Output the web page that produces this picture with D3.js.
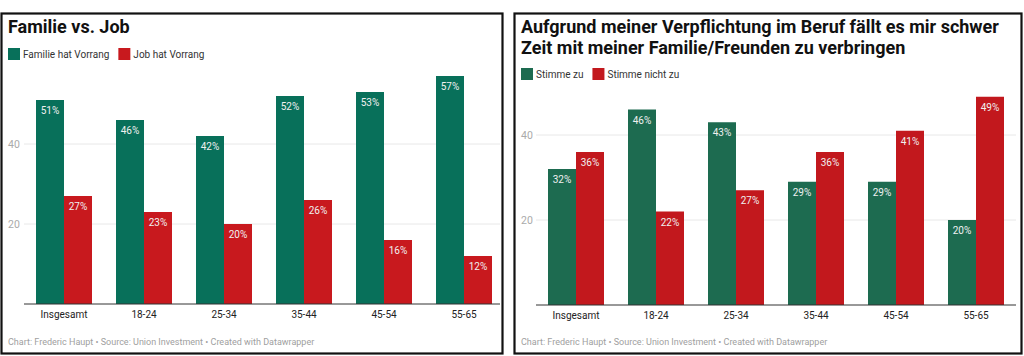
<!DOCTYPE html>
<html><head><meta charset="utf-8">
<script src="https://cdn.jsdelivr.net/npm/d3@7"></script>
<style>
html,body{margin:0;padding:0;background:#fff;}
svg{display:block;font-family:Roboto,"Noto Sans",sans-serif;}
</style></head>
<body><svg id="c" width="1024" height="356"></svg>
<script>
const categories = ["Insgesamt","18-24","25-34","35-44","45-54","55-65"];
const leftTitle = ["Familie vs. Job"];
const leftSeriesNames = ["Familie hat Vorrang","Job hat Vorrang"];
const leftFamilie = [51,46,42,52,53,57];
const leftJob = [27,23,20,26,16,12];
const rightTitle = ["Aufgrund meiner Verpflichtung im Beruf fällt es mir schwer","Zeit mit meiner Familie/Freunden zu verbringen"];
const rightSeriesNames = ["Stimme zu","Stimme nicht zu"];
const rightZu = [32,46,43,29,29,20];
const rightNicht = [36,22,27,36,41,49];
const yTicks = [20,40];
const footer = "Chart: Frederic Haupt • Source: Union Investment • Created with Datawrapper";

const svg = d3.select("#c");

function panel(cfg){
  const g = svg.append("g");
  g.append("rect").attr("x",cfg.bx).attr("y",cfg.by).attr("width",cfg.bw).attr("height",cfg.bh)
    .attr("fill","#fff").attr("stroke","#111").attr("stroke-width",2.2);
  cfg.title.forEach((t,i)=>{
    g.append("text").attr("x",cfg.tx).attr("y",cfg.ty+i*21).text(t)
      .attr("font-size",cfg.tsize).attr("font-weight",700).attr("fill","#111");
  });
  let lx = cfg.tx;
  cfg.names.forEach((n,i)=>{
    g.append("rect").attr("x",lx).attr("y",cfg.ly-6).attr("width",12).attr("height",12).attr("fill",cfg.colors[i]);
    const t = g.append("text").attr("x",lx+15).attr("y",cfg.ly+4).text(n)
      .attr("font-size",10).attr("fill","#333");
    lx += 15 + t.node().getComputedTextLength() + 9;
  });
  const x0 = d3.scaleBand().domain(categories).range([cfg.gx0, cfg.gx0+80*6]).paddingInner(0.3).paddingOuter(0.15);
  const x1 = d3.scaleBand().domain([0,1]).range([0,x0.bandwidth()]);
  const y = d3.scaleLinear().domain([0,cfg.ymax]).range([cfg.y0, cfg.y0-cfg.ppu*cfg.ymax]);
  yTicks.forEach(v=>{
    g.append("line").attr("x1",cfg.ax0).attr("x2",cfg.ax1).attr("y1",y(v)).attr("y2",y(v))
      .attr("stroke","#e8e8e8").attr("stroke-width",1);
    g.append("text").attr("x",cfg.tx).attr("y",y(v)+4).text(v).attr("font-size",10.5).attr("fill","#aaa");
  });
  const series = cfg.values;
  categories.forEach((c,ci)=>{
    series.forEach((arr,si)=>{
      const v = arr[ci];
      const bx = x0(c)+x1(si);
      g.append("rect").attr("x",bx).attr("y",y(v)).attr("width",x1.bandwidth()).attr("height",y(0)-y(v))
        .attr("fill",cfg.colors[si]);
      g.append("text").attr("x",bx+x1.bandwidth()/2).attr("y",y(v)+14).attr("text-anchor","middle")
        .text(v+"%").attr("font-size",10).attr("fill","#f0f0f0");
    });
  });
  g.append("line").attr("x1",cfg.ax0).attr("x2",cfg.ax1).attr("y1",y(0)).attr("y2",y(0))
    .attr("stroke","#333").attr("stroke-width",1);
  categories.forEach(c=>{
    g.append("text").attr("x",x0(c)+x0.bandwidth()/2).attr("y",y(0)+14).attr("text-anchor","middle")
      .text(c).attr("font-size",10).attr("fill","#222");
  });
  g.append("text").attr("x",cfg.tx).attr("y",345).text(footer).attr("font-size",9).attr("fill","#a0a0a0");
}

panel({bx:1.5,by:13.5,bw:501,bh:340,tx:8,ty:33,tsize:18,title:leftTitle,ly:54,names:leftSeriesNames,
  colors:["#08705a","#c8191e"],gx0:24,ymax:60,y0:304,ppu:4,ax0:24,ax1:500,values:[leftFamilie,leftJob]});
panel({bx:514.5,by:13.5,bw:507,bh:340,tx:521,ty:33,tsize:18,title:rightTitle,ly:74,names:rightSeriesNames,
  colors:["#1d6b50","#c2181d"],gx0:536,ymax:52,y0:305,ppu:4.25,ax0:536,ax1:1016,values:[rightZu,rightNicht]});
</script></body></html>
